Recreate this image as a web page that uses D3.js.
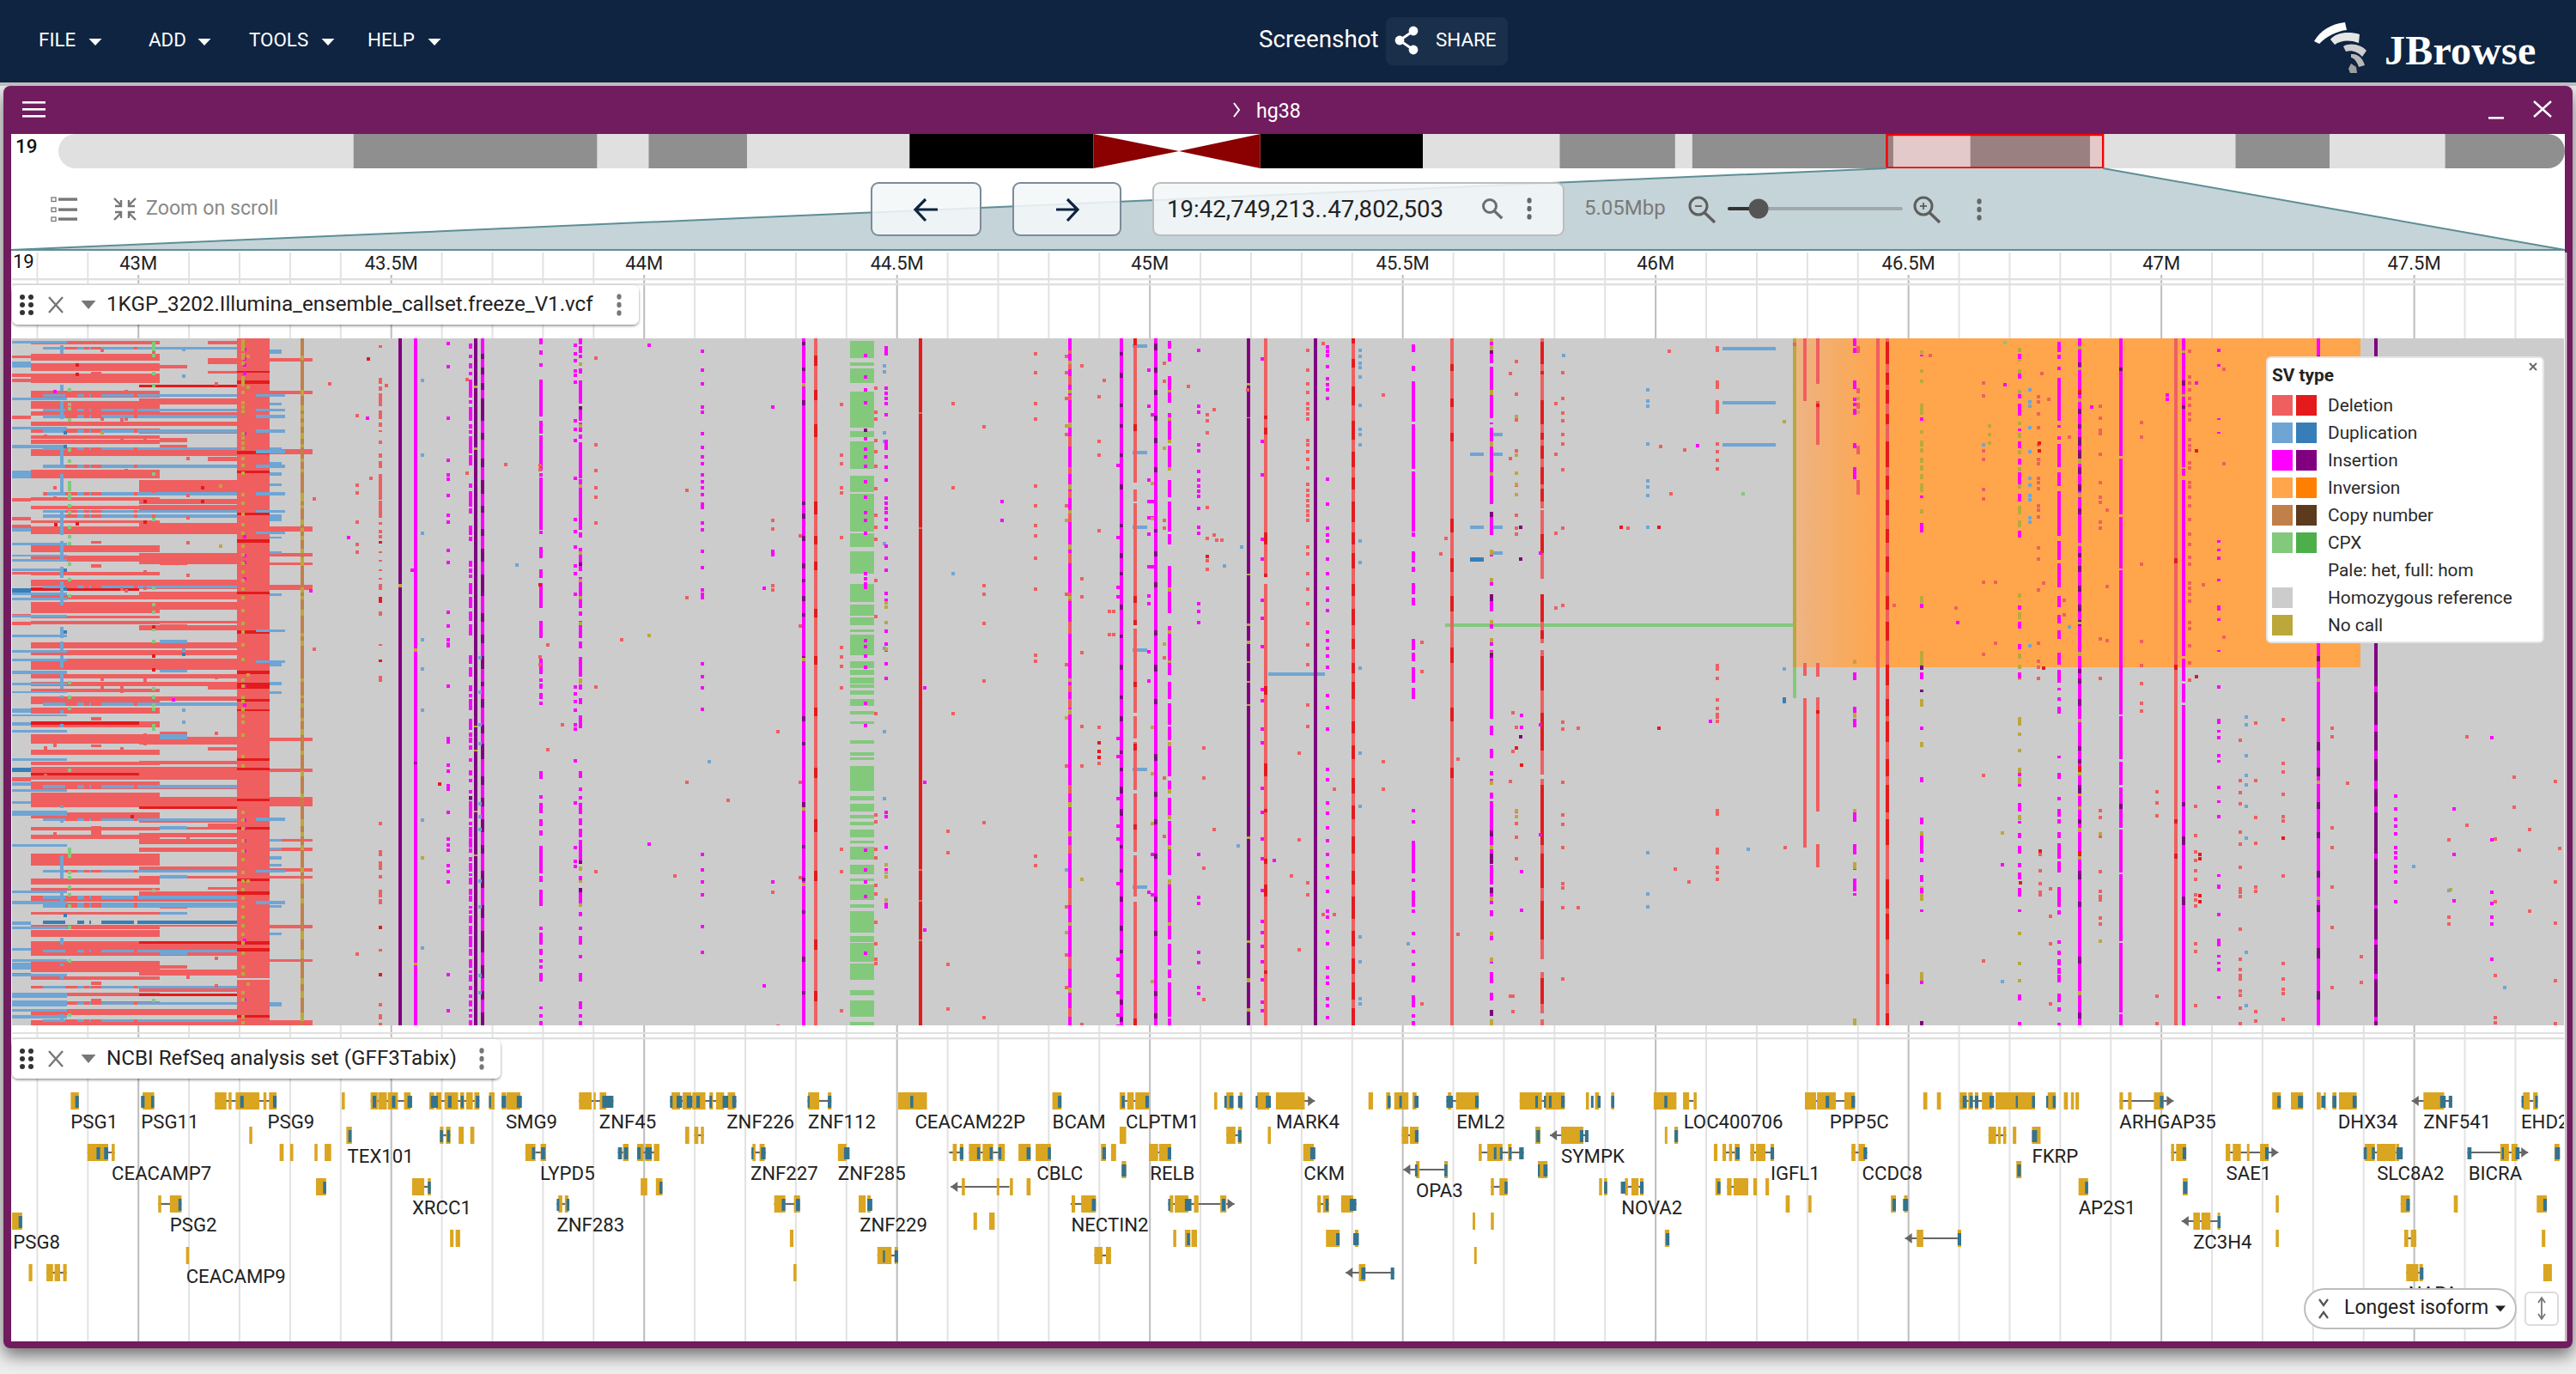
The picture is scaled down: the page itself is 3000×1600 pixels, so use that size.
<!DOCTYPE html>
<html>
<head>
<meta charset="utf-8">
<script src="https://cdn.jsdelivr.net/npm/d3@7"></script>
<style>
  body { margin: 0; background: #eee; }
  svg { display: block; font-family: Roboto, sans-serif; }
</style>
</head>
<body>
<div id="app"></div>
<script>
// view region in kb
const viewStart = 42749.213, viewEnd = 47802.503
const chromLength = 58.6

// chr19 cytobands, Mb
const bandStarts = [0, 6.9, 12.6, 13.8, 16.1, 19.9, 24.2, 26.2, 28.1, 31.9, 35.1, 37.8, 38.2, 42.9, 44.7, 47.5, 50.9, 53.1, 55.8]
const bandEnds = [6.9, 12.6, 13.8, 16.1, 19.9, 24.2, 26.2, 28.1, 31.9, 35.1, 37.8, 38.2, 42.9, 44.7, 47.5, 50.9, 53.1, 55.8, 58.6]
const bandKinds = ['l', 'd', 'l', 'd', 'l', 'k', 'c', 'c', 'k', 'l', 'd', 'l', 'd', 'l', 'd', 'l', 'd', 'l', 'd']

const legendLabels = ['Deletion', 'Duplication', 'Insertion', 'Inversion', 'Copy number', 'CPX', 'Pale: het, full: hom', 'Homozygous reference', 'No call']
const legendPale = ['#EF5F60', '#6FA5D4', '#FF00FF', '#FFA64D', '#C17F4A', '#82C97C', null, '#CCCCCC', '#BBA83B']
const legendFull = ['#E41A1C', '#377EB8', '#800080', '#FF7F00', '#5C3A1E', '#4DAF4A', null, null, null]

// matrix rows are 800 bins of samples. all spans below are flat from,to,from,to lists
// breakpoints shared by the deletions and duplications at the left of the view (kb)
const kbA = 42749, kbB = 42788, kbC = 42812, kbD = 42860, kbE = 43002, kbF = 43043, kbG = 43097, kbH = 43138
const kbI = 43196, kbJ = 43233, kbK = 43260, kbL = 43291, kbN = 43284, kbM = 43345

const delBtoF = [3,7,18,26,29,38,41,52,61,69,73,82,85,90,97,102,105,110,113,117,118,123,129,137,153,163,185,189,195,199,212,215,219,228,241,249,253,260,272,276,281,289,299,304,307,320,323,326,329,333,354,361,363,369,373,386,391,396,400,405,408,412,417,426,430,437,446,453,461,472,479,485,493,497,499,514,516,525,529,546,552,559,569,573,578,583,600,614,629,636,640,643,649,656,668,671,683,688,689,697,702,719,725,738,743,747,754,757,762,766,772,776,781,788,794,800]
const delEtoI = [70,77,86,90,97,102,107,111,129,137,165,179,187,193,194,201,215,228,250,263,281,292,295,304,307,316,329,332,334,340,354,361,363,369,373,386,391,396,400,405,417,422,464,473,492,496,499,514,523,525,534,546,559,564,569,572,576,581,583,589,593,598,615,621,626,629,644,656,683,685,702,719,735,742,757,761,763,766,781,788,794,800]
const delHtoI = [3,7,23,30,38,41,138,143,405,409,476,480,565,569,639,642]
const delFtoG = [31,35,99,102,116,121,124,128,261,264,333,336,458,461,661,664,730,734]
const delAtoB = [20,23,41,45,47,51,90,94,186,190,208,212,217,221,272,275,321,324,330,334,511,516,739,743]
const delKtoM = [23,27,61,65,129,135,219,225,250,254,261,264,287,293,465,469,501,505,534,545,583,586,593,597,617,621,626,629,683,687,723,726,794,800]
const delShort = [39,42,236,239,263,267,441,445,473,476,568,578,749,753,769,776]
const homDelBtoE = [290,294,446,450,506,509]
const homDelEtoI = [54,57,545,548,702,705,763,766]
const blockGaps = [745,747]
const blockHomBands = [38,40,49,53,131,135,154,157,203,206,234,238,295,298,340,344,387,391,401,408,420,423,432,434,489,492,500,503,536,539,569,572,629,632,644,648,702,706,710,714,788,791]

const dupCtoI = [10,13,65,68,82,85,89,93,106,110,127,130,147,151,179,183,200,203,205,209,288,291,424,428,520,524,559,562,619,622,649,653,657,663,712,715,754,757,773,776,793,796]
const dupPieces = [42812,42856,42880,42893,42904,42907,42927,42992,42999,43196]
const homDupCtoI = [678,682]
const dupAtoD = [3,6,69,72,103,106,124,128,238,241,252,254,257,260,268,271,296,299,302,305,322,325,345,348,363,366,373,376,387,391,401,404,411,413,438,440,456,459,489,492,525,528,550,556,589,592,643,646,655,659,685,688,723,726,740,743,762,768,771,778,781,784,788,792]
const dupAtoB = [27,34,154,163,221,225,431,436,447,451,517,521,539,542,679,683,710,713,727,735]
const homDupAtoB = [291,296,500,505]
const dupJtoL = [65,68,82,85,89,93,106,110,130,134,147,151,179,183,200,203,225,228,339,342,375,378,558,562,619,622,655,659]
const dupKtoN = [13,18,75,78,127,130,144,148,156,160,169,172,205,213,231,233,248,251,297,300,375,382,400,404,411,414,583,586,593,596,603,607,612,615,660,663,692,695,773,778]
const dupFtoG = [351,355,386,389,461,467,520,524,568,572,625,629,668,671,714,718]
const dupColumn = [8,18,54,61,73,94,124,149,158,183,203,229,236,259,266,279,283,311,336,349,353,363,369,384,388,408,416,419,433,437,449,453,544,547,559,564,602,629,643,659,698,706,728,731,743,746,763,766,787,796]

const cpxRows = [3,23,28,32,35,52,62,104,108,115,120,152,160,179,181,225,227,243,248,274,286,307,310,323,325,334,339,342,345,369,376,384,386,392,395,402,403,407,410,415,420,428,434,438,446,449,468,472,482,486,488,491,498,527,533,538,542,551,555,559,563,567,572,581,585,588,592,607,613,624,629,632,636,654,659,663,667,692,696,703,704,726,728,747,759,765,771,790,796,800]

// [kb, type, spans] columns that run most of the way down, spans null means all rows
const stripes = [
  [43321, 'cn', null],
  [43321, 'nc', [20,25,60,67,78,84,88,93,98,103,110,117,123,127,140,144,152,156,180,190,194,198,211,217,221,225,230,235,245,250,255,265,290,296,300,304,316,323,343,347,352,358,396,400,416,419,425,430,442,446,455,462,480,485,504,510,530,535,560,568,575,580,590,596,616,622,630,635,652,658,690,700,712,722,745,752,760,768,785,795]],
  [43515, 'INS', null], [43515, 'nc', [286,290]],
  [43545, 'ins', null], [43545, 'INS', [493,496]], [43545, 'nc', [361,365,727,730]],
  [43654, 'ins', [6,12,19,23,29,35,39,43,48,69,72,76,80,96,100,105,107,111,114,134,136,148,169,174,178,196,198,204,218,229,231,236,259,266,268,273,275,279,285,298,301,314,318,329,333,346,369,379,383,394,404,411,414,418,420,433,443,456,459,464,465,471,474,479,489,493,503,509,513,517,526,530,533,538,539,559,563,567,569,581,582,593,594,599,604,609,611,621,623,626,628,636,641,648,649,656,661,664,666,670,672,681,684,694,696,709,711,719,723,733,736,739,741,749,754,759,764,768,771,778,781,784,787,791,794,800]],
  [43654, 'INS', [533,537]],
  [43664, 'INS', null], [43664, 'nc', [55,58,127,130,451,453,479,481,550,552,601,603]],
  [43678, 'INS', null],
  [43678, 'ins', [0,18,24,34,42,52,60,70,96,110,118,140,150,165,181,195,203,222,230,245,260,275,300,320,330,345,355,370,385,400,405,420,430,450,460,472,490,510,520,535,545,560,575,590,600,620,640,660,675,690,715,730,745,760,770,785]],
  [43793, 'ins', [0,7,14,19,29,33,48,91,96,111,113,154,157,161,162,223,224,228,243,256,269,279,285,314,329,349,373,391,396,400,402,408,413,420,423,427,504,513,532,536,541,553,560,568,573,579,591,623,626,633,642,661,685,689,692,706,711,718,723,727,730,734,739,749,778,781,787,791,795,800]],
  [43871, 'ins', [0,7,9,17,19,23,35,41,49,76,82,96,98,109,112,117,121,163,164,223,226,232,244,263,265,271,278,314,318,323,329,349,353,361,371,394,396,400,403,409,419,426,439,454,504,512,523,527,533,537,541,554,559,567,571,581,584,609,626,633,641,661,668,673,685,689,696,706,718,722,739,749,772,781,787,791,795,800]],
  [43871, 'INS', [79,83,261,265,608,612,640,645]], [43871, 'nc', [28,32,100,104,170,174,248,252,280,284,300,304,330,334,396,402,615,620,631,634,658,662]],
  [43476, 'del', [8,11,46,53,56,61,64,79,84,94,98,103,107,109,119,123,134,139,143,151,158,188,189,209,214,217,223,227,229,233,236,239,248,250,258,260,269,271,279,281,286,293,301,308,318,323,356,358,374,377,393,396,396,400,563,567,596,603,609,619,625,629,642,651,653,659,711,714,774,778,787,793,797,800]],
  [43476, 'DEL', [236,239,301,308,374,377,684,688,739,743]],
  [44313, 'ins', null],
  [44313, 'INS', [4,8,34,38,72,78,190,194,204,210,230,236,262,268,280,284,300,306,320,324,370,376,440,446,470,474,540,546,590,594,628,632,666,670,720,726,760,764]],
  [44313, 'nc', [52,56,372,376,546,550,634,638]],
  [44337, 'del', null],
  [44337, 'DEL', [20,32,60,72,100,115,190,205,230,240,260,270,315,325,370,380,430,440,500,512,560,575,620,632,700,712,760,772]],
  [44544, 'DEL', null], [44544, 'del', [86,88,220,222,618,620,654,656,700,702]],
  [44839, 'ins', null],
  [44839, 'del', [14,18,30,36,44,54,66,72,114,126,150,158,178,186,204,214,250,262,296,306,330,344,404,412,420,430,520,530,590,600,640,660,720,734,780,790]],
  [44839, 'nc', [26,30,60,64,98,104,170,176,200,204,240,246,300,304,396,400,432,438,540,546,574,580,680,684,756,762]],
  [44941, 'ins', null],
  [44941, 'INS', [16,20,40,46,76,80,100,104,134,138,170,176,216,220,250,256,272,276,310,316,345,349,380,386,416,420,440,446,480,484,500,504,522,530,548,556,590,594,618,622,650,656,684,690,712,716,770,776,790,796]],
  [44968, 'del', [3,168,176,190,192,334,338,436,440,466,470,526,530,598,602,650,656,796]],
  [44968, 'DEL', [0,8,100,108,300,308,328,334,400,406,472,480,566,572,792,800]],
  [45009, 'ins', null],
  [45009, 'INS', [6,14,34,40,60,66,90,96,116,122,150,156,222,226,248,254,284,290,340,346,380,388,420,426,484,492,528,534,560,566,600,606,650,656,690,696,760,766,786,792]],
  [45036, 'ins', [3,12,17,27,44,60,63,75,87,118,125,150,165,185,190,225,228,240,265,290,295,320,335,375,378,392,400,420,425,450,452,468,470,510,515,530,535,555,562,590,595,625,630,680,684,700,705,730,735,745,750,790,792,800]],
  [45036, 'nc', [60,63,92,96,118,122,150,154,290,295,340,344,375,378,470,475,525,530,555,560,590,595,630,636,680,684]],
  [45193, 'INS', null], [45193, 'nc', [52,55,92,93,274,276,332,335,352,356,376,378,399,401,426,428,580,583,701,704,745,750,780,784]],
  [45227, 'del', [0,276,286,800]],
  [45227, 'DEL', [90,94,104,112,226,240,274,278,405,415,495,510,548,552,606,612,636,650,736,740]],
  [45325, 'INS', null],
  [45400, 'del', null],
  [45400, 'DEL', [0,6,24,34,56,78,96,118,132,150,162,176,190,214,226,240,250,268,286,300,315,334,350,362,378,390,400,420,446,460,474,490,512,530,544,560,580,600,620,636,650,676,690,708,722,740,750,770,780,800]],
  [45519, 'ins', [7,16,32,38,50,97,100,152,155,225,226,231,248,261,266,272,285,298,302,311,350,363,366,376,383,401,407,420,548,552,561,565,585,623,629,633,643,662,665,669,691,695,712,716,727,731,742,750,765,779,787,791,795,800]],
  [45595, 'del', null], [45595, 'DEL', [30,38,70,80,110,120,210,226,256,272,300,318,360,378,430,446,500,512]],
  [45673, 'ins', [0,29,33,93,98,100,104,156,159,193,204,229,246,254,279,288,298,318,328,338,349,358,363,443,451,462,478,489,504,509,513,520,529,536,539,603,613,636,639,659,666,673,691,701,721,728,738,751,762,771,783,789,793,800]],
  [45673, 'nc', [0,4,8,14,60,66,120,126,156,160,246,252,279,284,298,303,328,333,349,354,365,372,515,520,590,595,650,655,691,696,721,726,793,800]],
  [45673, 'INS', [14,18,202,208,298,306,366,372,573,580,600,612,640,646,782,789]],
  [45773, 'del', [0,198,200,280,298,355,363,508,513,723,738,786,793,800]],
  [45773, 'DEL', [4,30,38,42,72,100,110,118,125,140,150,170,175,190,228,250,298,330,340,350,370,410,436,480,520,590,600,640,655,700,745,775]],
  [46293, 'del', [0,73,378,393,419,593]],
  [46318, 'del', [0,53,73,124,378,394,418,551,589,616]],
  [46318, 'DEL', [76,80,433,437]],
  [46272, 'nc', [0,383]], [46272, 'cpx', [383,419]],
  [46391, 'ins', [0,9,11,17,49,59,69,73,75,79,82,89,122,128,150,164,389,398,429,438,443,453,548,563,589,601,611,619,629,644,646,649]],
  [46391, 'nc', [374,379,436,442,548,552,610,618,792,800]],
  [46398, 'del', [9,17,58,64,75,82,125,135,165,182]], [46398, 'nc', [68,72,84,88]],
  [46437, 'del', null],
  [46456, 'del', null],
  [46456, 'DEL', [4,30,40,54,60,76,88,100,120,150,160,176,188,206,222,238,254,272,300,316,330,352,380,404,420,440,446,470,490,510,520,552,560,590,630,664,670,700,740,752,786,800]],
  [46524, 'nc', [14,18,36,40,48,52,76,89,107,111,119,126,128,133,139,145,148,154,158,164,169,179,199,204,300,308,364,381,420,429,470,476,574,590,638,655,738,748,795,800]],
  [46524, 'ins', [19,21,92,96,183,186,215,226,309,314,389,397,452,456,511,517,558,566,579,600,605,610,625,633,640,646,665,668,748,752]],
  [46524, 'INS', [381,386,409,412,795,800]],
  [46717, 'nc', [11,16,23,27,36,41,60,66,97,101,110,116,130,135,150,155,168,175,195,205,212,220,297,302,319,327,367,373,380,385,390,398,441,451,459,463,478,482,500,506,511,521,541,548,555,561,691,695,726,730,746,750]],
  [46717, 'ins', [18,24,41,47,65,70,76,90,105,108,120,128,140,147,156,170,181,190,224,232,311,316,330,338,356,362,389,396,506,510,519,522,541,551,562,565,576,582,591,600,611,616,622,630,640,650,665,668,764,771,796,800]],
  [46795, 'ins', [4,16,19,24,33,37,46,96,101,104,114,118,123,150,156,172,178,230,236,258,262,290,300,313,322,332,340,350,366,380,386,401,407,410,418,422,429,437,486,489,506,513,534,538,548,557,560,565,575,582,588,606,609,622,639,662,666,671,701,705,713,718,723,730,733,740,741,750,763,773,779,784,797,800]],
  [46836, 'ins', null],
  [46836, 'INS', [28,33,60,65,82,88,100,105,115,125,130,140,150,158,170,178,198,205,250,255,265,272,288,295,310,318,328,335,385,390,396,402,420,428,475,480,490,495,520,530,560,565,620,630,656,662,720,728,785,792]],
  [46836, 'nc', [9,13,34,37,70,74,140,146,180,185,238,242,330,333,365,370,443,447,505,509,530,533,545,549,570,575,600,607,760,765]],
  [46836, 'DEL', [60,64,498,505,597,603]],
  [46918, 'ins', [0,137,140,205,208,268,270,438,440,490,493,520,523,570,572,622,624,702,704,785,787,800]],
  [46918, 'INS', [34,38,542,548]],
  [47026, 'del', null], [47026, 'DEL', [256,262,380,386,560,565,600,606]],
  [47042, 'ins', [0,49,52,160,165,370,373,399,402,424,427,800]],
  [47042, 'INS', [49,55,78,82,540,545,580,590,650,660]], [47042, 'nc', [14,17,65,68,150,152]],
  [47111, 'ins', [12,16,30,33,93,95,109,111,235,238,245,248,254,258,280,283,311,317,326,329,363,365,404,408,443,449,456,459,463,467,484,488,491,494,521,525,538,541,555,559,624,627,636,641,669,673,699,708,718,721,726,729,733,737,766,769]],
  [47308, 'ins', null],
  [47308, 'INS', [20,26,64,72,100,108,130,142,170,178,220,228,250,258,282,290,330,338,370,376,470,480,500,510,540,548,575,582,620,628,660,668,710,722,760,770]],
  [47308, 'nc', [30,34,150,154,345,350,396,400,515,519,650,654]],
  [47422, 'INS', null], [47422, 'ins', [345,350,405,412,450,458,480,490,515,525,545,552,600,606,660,664,700,706,740,746,790,795]]
]

// [kb, rows] single calls, by genotype
const delDots = [
  [42814,[112,179,475,507]],[42832,[172,184,472,575]],[42926,[12,92,395,405]],[42964,[93,114,290,300,404,409,476]],[42974,[60,92,152,292]],[43011,[116,186,270,289,396,460,470]],[43028,[10,14,156,176,205,392,400]],
  [43096,[138,181,207,236,274,379,580,742]],[43124,[187,257]],[43152,[51,393,400,458,720,752]],[43346,[185,360]],[43376,[51]],
  [43430,[88,169,178,212,238,247,715]],[43457,[161]],[43487,[53]],[43647,[46]],[43647,[155]],[43724,[145]],[43792,[146,151,369,378]],[43807,[355,477]],[43902,[21,122,172,183,404,619]],[43902,[152,213]],[43835,[448]],
  [44082,[175,300,515]],[44058,[624]],[44164,[536]],[43953,[349]],[44252,[78,210,220,286,291,643]],[44262,[456,799]],[44306,[228,333,515,626]],
  [44388,[75,134,144,172,178,230,358,369,380,405,593,619,781]],[44456,[56,84,92,117,130,147,173,204,218,232,280,322,435,553,561,593,603,635,645,678,703,721,726]],
  [44608,[74,172,435]],[44598,[572,597,727,779]],[44670,[101,286,296,330,397,562,789]],[44771,[16,38,74,92,170,193,216,228,254,290,367,374,601,612]],[44833,[19,38,68,110,193,296,378,496,660,716,754]],
  [44863,[30,278,299,364,450,496,797]],[44897,[66,118,134,222,451,493]],[44907,[47]],[44917,[316,343]],[44925,[316,343]],
  [45026,[27,48,210,219,370,510,578]],[45074,[54]],[45111,[87,94,108,195,231,257,267]],[45104,[475,510,615,768]],[45124,[81,227,570]],[45130,[233]],[45140,[233]],
  [45310,[12,35,51,61,74,80,86,92,117,122,130,139,149,168,175,181,187,193,199,204,210,241,249,272,290,307,330,355,378,425,450,632,646]],
  [45459,[64,491,523]],[45535,[352,386,773]],[45573,[249]],[45583,[231]],[45607,[488,692]],[45362,[523,669]],[45340,[4,669]],[45277,[624]],[45293,[481,582,710]],[45172,[589]],[45191,[58]],
  [45716,[434,479,764,782]],[45722,[25,63,93,129,169,204,219,226,451,549,563,579,604]],[45711,[39,138,514,764]],[45800,[74,133,225,312]],[45814,[38,68,85,94,110,121,151,219,309,445,453,515,553,564,591,633,638,661,744]],[45845,[452,661]],
  [46024,[13]],[46007,[124]],[46055,[128]],[46028,[179]],[45943,[219]],[46037,[616]],[46064,[631]],[46254,[591]],[46272,[5]],[46120,[9,12,49,52,55,72,76,80,84,121,130,140,150,379,383,394,419,429,436,439,444,548,552,593,597,614,620,628]],
  [46541,[18]],[46592,[312]],[46469,[309]],[46646,[50,65,129,139,174,185,282,366,507,723]],[46670,[282,353]],
  [46755,[66,72,86,102,122,139,144,161,166,173,193,198,206,242,255,291,353,374,381,394]],[46758,[599,618,633,643,646]],[46762,[39]],[46775,[69]],[46779,[639,671,703,773]],[46765,[283]],
  [46806,[303,320]],[46816,[113]],[46877,[77,91,105,109,133,166,183,189,212,219,394,348,548,556,578,619,642,648,652,673,680]],[46891,[198,287,350]],[46958,[96,113,261,351,379,400,423,432]],[46989,[526,539,554,764,796]],
  [47053,[13,43,50,58,68,76,86,93,116,123,128,143,149,166,171,183,193,209,226,238,253,261,283,289,296,304,329,336,356,376,396]],[47065,[543,577,596,606,618,628,646,652,659,703,712,775]],[47081,[285]],[47121,[34,144,346]],
  [47154,[466,513,527,540,573,587,614,639,643,648,686,721,733,740,744,758,763,778,796]],[47184,[446,513,556,586,637,642,782,793]],[47239,[442,493,503,529,555,560,580,624,726,744,756,761,791]],[47335,[452,462,568,591,637,684,754]],[47366,[516]],[47392,[718,748]],
  [47566,[582,672,680]],[47602,[462,565]],[47658,[581,654,740,789,795]],[47695,[509,544]],[47706,[594]],[47726,[570,665]],[47777,[514,631,679,746,796]],[47785,[592]]
]
const homDelDots = [
  [42877,[29,40,214]],[43011,[188,212]],[43028,[334,368,384]],[42834,[215]],[43124,[172,188]],[42985,[555]],[43792,[285]],[43593,[517]],[43452,[22]],[44897,[469,479,486]],[45111,[252]],[45930,[218]],[46004,[218,452]],[45733,[495]],[45722,[475]],[46758,[595]],[46765,[382]],[47074,[599,604,647,654]],[47067,[129,392]],[47239,[580]],[46719,[632]],[46756,[120,129]]
]
const insDots = [
  [43610,[4,31,91,140,157,162,181,204,212,245,259,317,333,349,354,356,403,464,468,495,502,519,523,550,581,588,594,612,619,631,739,781]],
  [43862,[6,16,24,36,41,49,94,104,117,161,209,223,241,263,272,296,404,412,421,431,448,453,490,539,591,607,613]],
  [43207,[11,22,29,39,109,229,251,259,278,403,425,559,569,583,595,699,768]],[42832,[60]],[43067,[419]],[43338,[292]],[43413,[230]],[43450,[91]],[43539,[268]],
  [44007,[6,587]],[44113,[13,35,51,78,84,109,125,136,144,157,165,172,180,191,195,213,221,246,265,291,296,300,377,392,405,430,599,617,631,646,683,713]],
  [44252,[78,246,250,631]],[44235,[289,752]],
  [44435,[18,43,58,73,115,127,136,147,165,183,201,210,225,272,278,284,288,350,357,368,381,423,449,594,617,631,648,714]],
  [44476,[9,13,16,56,62,68,74,87,118,122,126,136,148,163,184,190,196,201,209,218,240,254,268,295,303,339,354,361,377,394,550,555,591,617,625,652,657,660]],
  [44553,[405,515,687]],[44705,[188,210]],[44934,[146,230,288,299,464,485,534,566,581,633,721,740,760,786,799]],
  [44995,[35,77,163,188,207,226,264,298,307,363,397,643]],[45002,[87,188,207,264,599,646]],
  [45094,[12,77,84,122,129,153,163,170,176,182,196,218,225,307,316,329,599,649,656,713,725,754,761]],
  [45220,[22,118,157,232,255,303,324,357,407,420,453,469,522,550,581,604,641,677,690,706,724,745,771,781]],
  [45243,[606]],
  [45349,[8,13,18,31,45,52,58,68,162,191,219,227,234,255,272,289,303,315,340,350,359,368,381,414,428,453,500,512,539,551,568,583,599,612,626,642,665,672,689,703,731,742,749,767,775,789]],
  [45733,[437,451,619,664]],[45770,[248,448,576]],[46106,[444]],[46081,[123]],
  [46595,[329]],[46860,[78]],[47009,[64,69]],[47067,[50]],
  [47460,[531,546,558,566,575,591,597,603,613,619,631,654]],[47577,[546,599,653]],[47651,[463,582,643,656,672,680,721]],[46689,[52]],[46683,[611]]
]
const homInsDots = [[44435,[105]],[45730,[218,255,462]]]
const dupDots = [
  [43087,[11,42,361,431,445]],[43559,[47,134,225,349,383,431,559,708]],[43746,[262]],[43672,[370,410,448,470,540,555,570,630,660,740,760]],
  [44126,[491]],[44608,[272]],[44472,[30,37,108,118,237,359,456,534]],[44832,[617]],[45145,[263]],[45179,[241]],
  [45413,[12,19,27,32,43,76,104,110,122,234,259,382,481,543,695,724,767,773]],[45508,[703]],[45172,[589]],
  [45816,[18]],[45982,[58,71,77,121,164,171,181,218,597,645,660]],[46181,[593]],
  [46738,[58,72,77,102,130,161,169,181,186,207,212,356]],[46683,[747]],[46816,[334]],[47166,[439,448,484,507,518,543,580,713,775]],[46645,[122]],[47497,[613]],[47566,[641]],[47677,[754]],[46252,[383]]
]
const homDupDots = [[42853,[108,124,268,290,340,670]],[43087,[366]],[46252,[418,421]]]
const noCallDots = [
  [43205,[1,5,8,11,17,21,27,44,48,52,61,73,78,83,109,114,120,126,138,146,155,180,190,203,215,225,240,250,260,270,280,290,300,315,330,340,355,372,396,403,416,421,430,438,445,460,485,496,550,559,569,583,595,605,620,630,640,650,660,672,682,692,702,714,730,738,760,768,788,795]],
  [43215,[19,55,390,630,750]],[42926,[108]],[43160,[170,240]],[43559,[603]],[44007,[344]],[44476,[306,311,329,360,611,620,625,652]],[44863,[628]],[45002,[167,208,451,505,563,747]],[45026,[126,354]],[44833,[100,210,440,690]],
  [46252,[95]],[45722,[89,134,155,168,180,548,555]],[46683,[574]],[47250,[62,114]],[46658,[100,110,120]],[46877,[575,700]],[47570,[640]],[46520,[800]]
]
const cpxDots = [
  [42861,[58,75,80,93,128,141,166,170,174,180,184,193,201,218,229,237,261,279,298,399,416,429,501,593,597,601,620,626,637,646,659,684,723,786]],
  [43028,[4,8,11,18,39,53,156,209,289,308,317,337,351,406,416,425,430,449,453,641,769]],[46170,[179]],[46689,[3]]
]

const dupRightLong = [[44967,44995,[7,131,218,361,500,637]],[45235,45347,[389]],[45634,45661,[133,218]],[45675,45699,[110,133,218,248]],[46133,46238,[10,73,122]]]
const homDupLong = [[45634,45661,[255]]]
const cpxLine = [45585, 46272, 332]
const inversionSpan = [46272, 47395, 0, 383]

// gene models: kb, flat from,to lists per layout row
const exonRows = {
  0: [42867,42883,43009,43032,43152,43175,43179,43185,43193,43240,43248,43254,43259,43274,43403,43409,43460,43474,43475,43492,43494,43514,43526,43539,43576,43586,43589,43600,43606,43633,43637,43645,43649,43662,43665,43675,43694,43705,43719,43728,43729,43756,43872,43897,43901,43905,43913,43926,44055,44072,44077,44094,44096,44122,44130,44137,44143,44159,44166,44181,44325,44347,44364,44371,44503,44560,44808,44826,44941,44952,44956,44969,44972,44999,45128,45134,45152,45166,45178,45184,45213,45237,45250,45307,45433,45442,45468,45476,45484,45512,45520,45528,45590,45597,45606,45651,45732,45776,45783,45821,45863,45869,45881,45889,45913,45919,45997,46042,46055,46067,46076,46082,46296,46318,46320,46357,46374,46395,46530,46538,46557,46565,46602,46616,46619,46628,46632,46639,46646,46667,46673,46751,46776,46792,46808,46816,46822,46828,46831,46838,46918,46925,46935,46942,46986,47005,47220,47237,47257,47281,47308,47316,47322,47326,47339,47347,47352,47387,47519,47560,47716,47729,47736,47745],
  2: [43220,43226,43412,43423,43597,43604,43609,43618,43634,43644,43657,43665,44082,44090,44100,44108,44113,44119,44941,44954,45152,45170,45175,45182,45234,45240,45499,45512,45515,45532,45763,45773,45814,45858,46019,46024,46038,46045,46659,46674,46678,46683,46688,46694,46707,46714,46745,46762],
  3: [42900,42941,42948,42954,43280,43288,43301,43307,43349,43355,43369,43382,43766,43786,43796,43807,43959,43970,43987,44000,44003,44016,44020,44031,44215,44221,44229,44239,44384,44401,44611,44619,44625,44632,44643,44666,44670,44691,44701,44714,44741,44765,44775,44805,44904,44914,44924,44934,44999,45017,45019,45043,45304,45325,45651,45657,45668,45698,45709,45716,46116,46123,46133,46140,46146,46152,46157,46167,46188,46196,46199,46218,46228,46235,46388,46396,46402,46415,47020,47026,47030,47050,47128,47137,47142,47158,47170,47175,47196,47213,47403,47423,47427,47464,47465,47471,47671,47688,47693,47705,47778,47788],
  4: [44945,44954,45527,45534,45583,45590,45768,45787,46714,46724],
  5: [43352,43372,43542,43566,43573,43579,43994,44007,44024,44037,44629,44635,44698,44703,44724,44730,44757,44765,45675,45681,45692,45708,45889,45895,45899,45905,45940,45946,45953,45967,45970,45977,46119,46129,46142,46151,46155,46184,46194,46201,46218,46225,46837,46856,47043,47053],
  6: [43040,43046,43063,43086,43831,43839,43844,43851,44258,44280,44297,44309,44425,44439,44442,44449,44846,44853,44865,44894,45040,45047,45050,45077,45088,45097,45140,45152,45332,45339,45343,45355,45379,45403,46258,46266,46303,46309,46466,46476,46492,46499,47227,47233,47474,47492,47579,47587,47743,47763],
  7: [42751,42771,44652,44659,44683,44694,45639,45644,45675,45681,47064,47077,47080,47098,47112,47117],
  8: [43617,43624,43628,43637,44289,44296,45047,45053,45070,45081,45083,45094,45349,45376,45406,45413,46019,46028,46517,46530,46598,46605,47227,47233,47481,47489,47494,47505,47753,47760],
  9: [43095,43101,44462,44490,44496,44503,44891,44907,44914,44924,45642,45647],
  10: [42784,42791,42819,42832,42835,42846,42852,42859,44296,44302,45414,45427,47485,47509,47511,47518,47756,47773],
  12: [43169,43193]
}
const cdsRows = {
  0: [42876,42883,43006,43013,43026,43032,43202,43209,43267,43274,43464,43471,43502,43509,43533,43542,43579,43593,43613,43620,43638,43644,43668,43675,43694,43698,43719,43728,43749,43759,43918,43940,44052,44057,44065,44076,44085,44096,44104,44111,44130,44135,44156,44167,44175,44183,44324,44328,44364,44371,44527,44533,44819,44826,44945,44951,44992,44999,45148,45153,45158,45166,45175,45184,45210,45214,45230,45240,45471,45477,45494,45499,45524,45532,45587,45600,45644,45651,45763,45768,45780,45784,45790,45795,45814,45821,45873,45878,45886,45892,45913,45919,46018,46024,46337,46344,46388,46395,46608,46616,46622,46628,46632,46639,46661,46670,46713,46717,46745,46751,46773,46777,46786,46792,46998,47005,47230,47237,47271,47281,47317,47325,47339,47347,47379,47387,47552,47563,47569,47576,47713,47717,47740,47745],
  2: [43416,43422,43597,43603,43611,43617,45175,45182,45525,45532,45765,45772,45851,45858,45861,45868,46038,46045,46745,46755],
  3: [42918,42925,42933,42941,43779,43785,43797,43805,43949,43957,43961,43969,43987,43994,44003,44016,44213,44217,44232,44241,44396,44407,44625,44632,44659,44665,44684,44690,44701,44707,44757,44765,44799,44805,44907,44914,45036,45043,45318,45328,45681,45686,45693,45698,45711,45716,45731,45740,46159,46167,46228,46235,46412,46419,47043,47050,47206,47213,47401,47407,47417,47423,47466,47478,47606,47614,47674,47678,47701,47709,47779,47789],
  4: [44945,44954,45525,45530,45583,45589,45768,45772,45779,45787,46716,46723],
  5: [43366,43372,43573,43579,44031,44037,45702,45708,45899,45905,45932,45941,45970,45977,46123,46129,46850,46856,47044,47052],
  6: [43080,43086,43828,43833,43847,43853,44273,44280,44301,44309,44442,44452,44886,44894,45037,45041,45070,45083,45143,45150,45348,45354,45396,45409,46469,46476,46490,46500,47485,47492,47756,47763],
  7: [42764,42771,47112,47118],
  8: [45074,45080,45369,45376,45403,45414,46021,46028,46598,46605],
  9: [44473,44477,44496,44503],
  10: [45419,45427,45477,45484,47512,47519],
  12: [43166,43170,43185,43193]
}
// [row, from, to, strand]
const geneLines = [
  [0,43152,43274,0],[0,43460,43542,0],[0,43576,43675,0],[0,43872,43940,0],[0,44052,44183,0],[0,44324,44371,0],[0,44941,44999,0],[0,45250,45327,1],[0,45587,45651,0],[0,45732,45821,0],[0,46067,46076,0],[0,46296,46395,0],[0,46602,46670,0],[0,46673,46751,0],[0,46918,47025,1],[0,47496,47576,-1],[0,47713,47745,0],
  [2,43597,43618,0],[2,44100,44119,0],[2,45152,45182,0],[2,45499,45532,0],[2,45792,45868,-1],[2,46659,46694,0],
  [3,42900,42954,0],[3,43766,43807,0],[3,43949,43969,0],[3,43987,44031,0],[3,44213,44241,0],[3,44604,44632,0],[3,44643,44714,0],[3,44999,45043,0],[3,45651,45740,0],[3,46133,46167,0],[3,46188,46235,0],[3,46388,46419,0],[3,47020,47050,0],[3,47128,47232,1],[3,47401,47478,0],[3,47606,47726,1],
  [4,45502,45589,-1],[4,45768,45787,0],
  [5,43352,43372,0],[5,43542,43579,0],[5,44607,44723,-1],[5,45675,45708,0],[5,45940,45977,0],[5,46142,46184,0],
  [6,43040,43086,0],[6,43828,43853,0],[6,44258,44309,0],[6,44844,44894,0],[6,45037,45168,1],[6,45332,45355,0],[6,45379,45409,0],[6,47474,47492,0],
  [7,47041,47118,-1],[8,46494,46605,-1],[8,47481,47505,0],[9,44462,44503,0],[9,44891,44924,0],[10,42819,42859,0],[10,45388,45484,-1],[10,47485,47518,0]
]
const geneNames = ['PSG1','PSG11','PSG9','SMG9','ZNF45','ZNF226','ZNF112','TEX101','CEACAMP7','LYPD5','ZNF227','ZNF285','XRCC1','PSG2','ZNF283','PSG8','CEACAMP9','CEACAM22P','BCAM','CLPTM1','MARK4','EML2','LOC400706','SYMPK','CBLC','RELB','CKM','OPA3','NOVA2','NECTIN2','ZNF229','PPP5C','ARHGAP35','DHX34','ZNF541','EHD2','FKRP','IGFL1','CCDC8','SAE1','SLC8A2','BICRA','AP2S1','ZC3H4','NAPA']
const geneNameKb = [42867,43006,43256,43727,43912,44164,44325,43414,42948,43795,44211,44384,43542,43063,43828,42753,43095,44536,44808,44953,45250,45607,46056,45814,44777,45001,45305,45527,45933,44845,44427,46345,46918,47350,47519,47712,46745,46228,46409,47129,47427,47608,46837,47064,47489]
const geneNameRow = [0,0,0,0,0,0,0,2,3,3,3,3,5,6,6,7,9,0,0,0,0,0,0,2,3,3,3,4,5,6,6,0,0,0,0,0,2,3,3,3,3,3,5,7,10]

// scales
const xScale = d3.scaleLinear([viewStart, viewEnd], [13, 2989.3])
const yScale = d3.scaleLinear([0, 800], [394, 1194])
const ideoScale = d3.scaleLinear([0, chromLength], [68, 2987])
const geneY = d3.scaleLinear([0, 1], [1272, 1292])

const genoColor = d3.scaleOrdinal(
  ['del', 'DEL', 'dup', 'DUP', 'ins', 'INS', 'inv', 'INV', 'cn', 'CN', 'cpx', 'CPX', 'ref', 'nc'],
  ['#EF5F60', '#E41A1C', '#6FA5D4', '#377EB8', '#FF00FF', '#800080', '#FFA64D', '#FF7F00', '#C17F4A', '#5C3A1E', '#82C97C', '#4DAF4A', '#CCCCCC', '#BBA83B'])
const navy = '#0F2440', plum = '#701F5F', exonColor = '#DAA520', cdsColor = '#33738F', intronColor = '#666'
const stripePx = 4, dotPx = 4

const pairs = a => d3.range(0, a.length, 2).map(i => [a[i], a[i + 1]])

const svg = d3.select('#app').append('svg').attr('width', 3000).attr('height', 1600)
const defs = svg.append('defs')

const shadow = defs.append('filter').attr('id', 'frameShadow').attr('x', '-5%').attr('y', '-5%').attr('width', '110%').attr('height', '110%')
shadow.append('feDropShadow').attr('dx', 0).attr('dy', 8).attr('stdDeviation', 10).attr('flood-color', '#000').attr('flood-opacity', 0.55)
const smallShadow = defs.append('filter').attr('id', 'boxShadow').attr('x', '-5%').attr('y', '-20%').attr('width', '110%').attr('height', '140%')
smallShadow.append('feDropShadow').attr('dx', 0).attr('dy', 1.5).attr('stdDeviation', 1.5).attr('flood-color', '#000').attr('flood-opacity', 0.45)

defs.append('clipPath').attr('id', 'matrixClip').append('rect').attr('x', 14).attr('y', 394).attr('width', 2972).attr('height', 800)
defs.append('clipPath').attr('id', 'geneClip').append('rect').attr('x', 14).attr('y', 1260).attr('width', 2972).attr('height', 240)
defs.append('clipPath').attr('id', 'ideoClip').append('rect').attr('x', ideoScale(0)).attr('y', 156).attr('width', ideoScale(chromLength) - ideoScale(0)).attr('height', 40).attr('rx', 20)

const invGrad = defs.append('linearGradient').attr('id', 'invGrad').attr('gradientUnits', 'userSpaceOnUse')
  .attr('x1', xScale(inversionSpan[0])).attr('x2', xScale(inversionSpan[0] + 170)).attr('y1', 0).attr('y2', 0)
invGrad.append('stop').attr('offset', 0).attr('stop-color', '#EDB587')
invGrad.append('stop').attr('offset', 0.55).attr('stop-color', '#F6AB63')
invGrad.append('stop').attr('offset', 1).attr('stop-color', genoColor('inv'))

// page frame
svg.append('rect').attr('width', 3000).attr('height', 1600).attr('fill', '#eeeeee')
svg.append('rect').attr('x', 4).attr('y', 100).attr('width', 2992).attr('height', 1470).attr('rx', 8).attr('fill', plum).attr('filter', 'url(#frameShadow)')
svg.append('rect').attr('width', 3000).attr('height', 96).attr('fill', navy)
svg.append('rect').attr('y', 96).attr('width', 3000).attr('height', 4).attr('fill', '#BDBDBD')
svg.append('rect').attr('x', 13).attr('y', 156).attr('width', 2974).attr('height', 1406).attr('fill', '#fff')

function txt(sel, x, y, s, size, fill, extra) {
  const t = sel.append('text').attr('x', x).attr('y', y).attr('font-size', size).attr('fill', fill).text(s)
  if (extra) Object.entries(extra).forEach(([k, v]) => t.attr(k, v))
  return t
}
function kebab(sel, x, y, fill, gap = 9.5) {
  sel.selectAll(null).data([-1, 0, 1]).join('ellipse').attr('cx', x).attr('cy', d => y + d * gap).attr('rx', 2.6).attr('ry', 3.2).attr('fill', fill)
}
function tri(sel, x, y, w, h, fill) {
  sel.append('path').attr('d', `M${x - w / 2},${y - h / 2}L${x + w / 2},${y - h / 2}L${x},${y + h / 2}Z`).attr('fill', fill)
}
function magnifier(sel, cx, cy, r, color, sign) {
  sel.append('circle').attr('cx', cx).attr('cy', cy).attr('r', r).attr('fill', 'none').attr('stroke', color).attr('stroke-width', 3)
  sel.append('line').attr('x1', cx + r * 0.7).attr('y1', cy + r * 0.75).attr('x2', cx + r * 1.9).attr('y2', cy + r * 1.9).attr('stroke', color).attr('stroke-width', 3.4)
  if (sign) {
    sel.append('line').attr('x1', cx - 4).attr('x2', cx + 4).attr('y1', cy).attr('y2', cy).attr('stroke', color).attr('stroke-width', 1.8)
    if (sign === '+') sel.append('line').attr('x1', cx).attr('x2', cx).attr('y1', cy - 4).attr('y2', cy + 4).attr('stroke', color).attr('stroke-width', 1.8)
  }
}

// header
const header = svg.append('g')
const menuX = [45, 173, 290, 428], menuArrow = [111, 238, 382, 506], menuLabels = ['FILE', 'ADD', 'TOOLS', 'HELP']
menuLabels.forEach((m, i) => {
  txt(header, menuX[i], 54, m, 22.4, '#fff', { 'font-weight': 400 })
  tri(header, menuArrow[i], 49, 15, 8, '#fff')
})
txt(header, 1466, 55, 'Screenshot', 27.8, '#fff')
header.append('rect').attr('x', 1614).attr('y', 20).attr('width', 142).attr('height', 56).attr('rx', 8).attr('fill', '#1A2F4A')
header.append('path').attr('d', 'M1646,36L1630,47L1646,58').attr('fill', 'none').attr('stroke', '#fff').attr('stroke-width', 3)
header.selectAll(null).data([[1646, 36], [1630, 47], [1646, 58]]).join('circle').attr('cx', d => d[0]).attr('cy', d => d[1]).attr('r', 5.4).attr('fill', '#fff')
txt(header, 1672, 54, 'SHARE', 22.4, '#fff')
// logo swooshes
const logoParts = [
  ['M2695,48C2702,36 2714,28 2731,26L2733,35C2722,36 2710,42 2701,51Z', '#fff'],
  ['M2714,46C2720,38 2735,36 2748,40L2747,50C2736,46 2726,47 2719,52Z', '#E6E6E6'],
  ['M2729,54C2737,49 2750,52 2756,59L2751,66C2746,60 2738,58 2732,60Z', '#CFCFCF'],
  ['M2738,63C2746,62 2752,68 2754,76L2747,78C2745,72 2742,68 2738,67Z', '#B8B8B8'],
  ['M2738,74L2744,78L2745,85L2737,85L2735,80Z', '#9E9E9E']
]
header.selectAll(null).data(logoParts).join('path').attr('d', d => d[0]).attr('fill', d => d[1])
txt(header, 2777, 75, 'JBrowse', 48, '#fff', { 'font-family': 'Liberation Serif', 'font-weight': 700, 'letter-spacing': 0.2 })

// view title bar
const titleBar = svg.append('g')
titleBar.selectAll(null).data([118, 126, 134]).join('rect').attr('x', 26).attr('y', d => d).attr('width', 27).attr('height', 2.6).attr('fill', '#fff')
titleBar.append('path').attr('d', 'M1437,120L1443,128L1437,136').attr('fill', 'none').attr('stroke', '#fff').attr('stroke-width', 2)
txt(titleBar, 1463, 137, 'hg38', 23.2, '#fff')
titleBar.append('rect').attr('x', 2898).attr('y', 136).attr('width', 18).attr('height', 2.6).attr('fill', '#fff')
titleBar.append('path').attr('d', 'M2951,118L2971,136M2971,118L2951,136').attr('fill', 'none').attr('stroke', '#fff').attr('stroke-width', 2.4)

// ideogram
const ideo = svg.append('g')
txt(ideo, 18, 178, '19', 22.4, '#111', { 'font-weight': 500 })
const bandFill = { l: '#E0E0E0', d: '#8F8F8F', k: '#000' }
ideo.append('g').attr('clip-path', 'url(#ideoClip)').selectAll('rect')
  .data(bandStarts.map((s, i) => ({ s, e: bandEnds[i], k: bandKinds[i] })).filter(b => b.k !== 'c'))
  .join('rect').attr('x', d => ideoScale(d.s)).attr('y', 156).attr('width', d => ideoScale(d.e) - ideoScale(d.s)).attr('height', 40).attr('fill', d => bandFill[d.k])
const cenA = ideoScale(bandStarts[6]), cenM = ideoScale(bandEnds[6]), cenB = ideoScale(bandEnds[7])
ideo.append('path').attr('d', `M${cenA},156L${cenM},176L${cenA},196ZM${cenB},156L${cenM},176L${cenB},196Z`).attr('fill', '#8B0000')

// overview trapezoid
const ovA = ideoScale(viewStart / 1000), ovB = ideoScale(viewEnd / 1000)
svg.append('path').attr('d', `M13,291L${ovA},196L${ovB},196L2987,291Z`).attr('fill', '#C5D4D8')
svg.append('path').attr('d', `M13,291L${ovA},196M${ovB},196L2987,291M13,291L2987,291`).attr('fill', 'none').attr('stroke', '#5E8E96').attr('stroke-width', 2)
ideo.append('rect').attr('x', ovA).attr('y', 157).attr('width', ovB - ovA).attr('height', 38.5).attr('fill', 'rgba(255,0,0,0.1)').attr('stroke', '#F40000').attr('stroke-width', 2.4)

// toolbar
const bar = svg.append('g')
const btn = (x, w, stroke) => bar.append('rect').attr('x', x).attr('y', 213).attr('width', w).attr('height', 61).attr('rx', 8).attr('fill', '#F4F7F8').attr('fill-opacity', 0.88).attr('stroke', stroke).attr('stroke-width', 2)
btn(1015, 127, '#7C8B9A'); btn(1180, 125, '#7C8B9A'); btn(1343, 478, '#BDBDBD')
bar.append('path').attr('d', 'M1092,244L1066,244M1078,232L1066,244L1078,257').attr('fill', 'none').attr('stroke', navy).attr('stroke-width', 3.2)
bar.append('path').attr('d', 'M1230,244L1255,244M1243,232L1255,244L1243,257').attr('fill', 'none').attr('stroke', navy).attr('stroke-width', 3.2)
txt(bar, 1359, 253, '19:42,749,213..47,802,503', 27.6, '#222')
magnifier(bar, 1735, 240, 7.5, '#6D6D6D')
kebab(bar, 1781, 243, '#666')
txt(bar, 1845, 250, '5.05Mbp', 24, '#7A7A7A')
magnifier(bar, 1978, 240, 10, '#5E5E5E', '-')
bar.append('line').attr('x1', 2014).attr('x2', 2214).attr('y1', 243).attr('y2', 243).attr('stroke', '#9FA9AD').attr('stroke-width', 4).attr('stroke-linecap', 'round')
bar.append('line').attr('x1', 2014).attr('x2', 2048).attr('y1', 243).attr('y2', 243).attr('stroke', '#333').attr('stroke-width', 4).attr('stroke-linecap', 'round')
bar.append('circle').attr('cx', 2048).attr('cy', 243).attr('r', 11.5).attr('fill', '#555')
magnifier(bar, 2240, 240, 10, '#5E5E5E', '+')
kebab(bar, 2305, 244, '#666')
bar.selectAll(null).data([232, 244, 255]).join('g').each(function (d) {
  d3.select(this).append('rect').attr('x', 60).attr('y', d - 2).attr('width', 5).attr('height', 4.5).attr('fill', 'none').attr('stroke', '#777').attr('stroke-width', 1.3)
  d3.select(this).append('rect').attr('x', 68).attr('y', d - 1.6).attr('width', 22).attr('height', 3.4).attr('fill', '#777')
})
bar.append('path').attr('d', 'M133,231L141,239M141,233L141,240L134,240M158,231L150,239M150,233L150,240L157,240M133,256L141,248M141,254L141,247L134,247M158,256L150,248M150,254L150,247L157,247').attr('fill', 'none').attr('stroke', '#777').attr('stroke-width', 2.4)
txt(bar, 170, 250, 'Zoom on scroll', 23.2, '#8A8A8A')

// grid lines, scale bar
const minorTicks = d3.range(42800, 47900, 100).filter(d => d % 500 !== 0)
const majorTicks = d3.range(43000, 47600, 500)
const gridMinor = svg.append('g').attr('transform', 'translate(0,294)')
  .call(d3.axisBottom(xScale).tickValues(minorTicks).tickSize(1268).tickFormat(''))
gridMinor.select('.domain').remove()
gridMinor.selectAll('line').attr('stroke', '#E2E2E2').attr('stroke-width', 2)
const gridMajor = svg.append('g').attr('transform', 'translate(0,320)')
  .call(d3.axisBottom(xScale).tickValues(majorTicks).tickSize(1242).tickFormat(''))
gridMajor.select('.domain').remove()
gridMajor.selectAll('line').attr('stroke', '#BDBDBD').attr('stroke-width', 2)
const scaleAxis = svg.append('g').attr('transform', 'translate(0,320)')
  .call(d3.axisTop(xScale).tickValues(majorTicks).tickSize(0).tickPadding(6).tickFormat(d => (d / 1000) + 'M'))
scaleAxis.select('.domain').remove()
scaleAxis.selectAll('text').attr('font-family', 'Roboto').attr('font-size', 22).attr('fill', '#222')
svg.append('rect').attr('x', 14).attr('y', 324).attr('width', 2972).attr('height', 2.4).attr('fill', '#E0E0E0')
svg.append('rect').attr('x', 14).attr('y', 330).attr('width', 2972).attr('height', 2.4).attr('fill', '#E0E0E0')
svg.append('rect').attr('x', 14).attr('y', 1202).attr('width', 2972).attr('height', 2).attr('fill', '#E0E0E0')
svg.append('rect').attr('x', 14).attr('y', 1208).attr('width', 2972).attr('height', 2.4).attr('fill', '#E0E0E0')
svg.append('rect').attr('x', 14).attr('y', 294).attr('width', 26).attr('height', 28).attr('fill', '#fff')
txt(svg, 15, 312, '19', 22, '#111')

// variant matrix
const matrix = svg.append('g').attr('clip-path', 'url(#matrixClip)').attr('shape-rendering', 'crispEdges')
matrix.append('rect').attr('x', xScale(viewStart)).attr('y', yScale(0)).attr('width', 2980).attr('height', 800).attr('fill', genoColor('ref'))
matrix.append('rect').attr('x', xScale(inversionSpan[0])).attr('y', yScale(inversionSpan[2])).attr('width', xScale(inversionSpan[1]) - xScale(inversionSpan[0])).attr('height', yScale(inversionSpan[3]) - yScale(inversionSpan[2])).attr('fill', 'url(#invGrad)')

// one rect per row span, between two genome positions
function spanRects(k0, k1, flat, type) {
  matrix.append('g').selectAll('rect').data(pairs(flat)).join('rect')
    .attr('x', xScale(k0)).attr('width', Math.max(xScale(k1) - xScale(k0), 2))
    .attr('y', d => yScale(d[0])).attr('height', d => yScale(d[1]) - yScale(d[0]))
    .attr('fill', genoColor(type))
}
function dots(entries, type, px = dotPx) {
  const flat = entries.flatMap(e => e[1].map(r => [e[0], r]))
  matrix.append('g').selectAll('rect').data(flat).join('rect')
    .attr('x', d => xScale(d[0])).attr('width', px)
    .attr('y', d => yScale(d[1])).attr('height', px)
    .attr('fill', genoColor(type))
}

spanRects(kbI, kbK, [0, 800], 'del')
spanRects(kbI, kbK, blockGaps, 'ref')
spanRects(kbB, kbF, delBtoF, 'del')
spanRects(kbE, kbI, delEtoI, 'del')
spanRects(kbH, kbI, delHtoI, 'del')
spanRects(kbF, kbG, delFtoG, 'del')
spanRects(kbA, kbB, delAtoB, 'del')
spanRects(kbK, kbM, delKtoM, 'del')
spanRects(42907, 42927, delShort, 'del')
spanRects(kbB, kbE, homDelBtoE, 'DEL')
spanRects(kbE, kbI, homDelEtoI, 'DEL')
spanRects(kbI, kbK, blockHomBands, 'DEL')
spanRects(kbC, kbI, dupCtoI, 'del')
pairs(dupPieces).forEach(p => {
  spanRects(p[0], p[1], dupCtoI, 'dup')
  spanRects(p[0], p[1], homDupCtoI, 'DUP')
})
spanRects(kbA, kbD, dupAtoD, 'dup')
spanRects(kbA, kbB, dupAtoB, 'dup')
spanRects(kbA, kbB, homDupAtoB, 'DUP')
spanRects(kbJ, kbL, dupJtoL, 'dup')
spanRects(kbK, kbN, dupKtoN, 'dup')
spanRects(kbF, kbG, dupFtoG, 'dup')
spanRects(42846, 42853, dupColumn, 'dup')
spanRects(44408, 44456, cpxRows, 'cpx')
dupRightLong.forEach(d => spanRects(d[0], d[1], d[2].flatMap(r => [r, r + 4]), 'dup'))
homDupLong.forEach(d => spanRects(d[0], d[1], d[2].flatMap(r => [r, r + 5]), 'DUP'))
spanRects(cpxLine[0], cpxLine[1], [cpxLine[2], cpxLine[2] + 4], 'cpx')

stripes.forEach(s => spanRects(s[0], s[0] + stripePx * 1.698, s[2] || [0, 800], s[1]))

dots(delDots, 'del')
dots(dupDots, 'dup')
dots(homDupDots, 'DUP')
dots(insDots, 'ins')
dots(homInsDots, 'INS')
dots(noCallDots, 'nc')
dots(cpxDots, 'cpx')
dots(homDelDots, 'DEL')

// track label boxes
function trackLabel(y, w, name, kebabX) {
  const g = svg.append('g')
  g.append('rect').attr('x', 14).attr('y', y).attr('width', w).attr('height', 46).attr('rx', 7).attr('fill', '#fff').attr('filter', 'url(#boxShadow)')
  g.selectAll(null).data([[26, 14], [36, 14], [26, 23], [36, 23], [26, 32], [36, 32]]).join('circle')
    .attr('cx', d => d[0]).attr('cy', d => y + d[1]).attr('r', 3).attr('fill', '#333')
  g.append('path').attr('d', `M57,${y + 14}L73,${y + 32}M73,${y + 14}L57,${y + 32}`).attr('stroke', '#777').attr('stroke-width', 2.4)
  tri(g, 103, y + 23, 17, 10, '#777')
  txt(g, 124, y + 30, name, 24.2, '#222')
  kebab(g, kebabX, y + 23, '#777')
}
trackLabel(332, 730, '1KGP_3202.Illumina_ensemble_callset.freeze_V1.vcf', 721)
trackLabel(1210, 569, 'NCBI RefSeq analysis set (GFF3Tabix)', 561)

// genes
const genes = svg.append('g').attr('clip-path', 'url(#geneClip)')
geneLines.forEach(([row, a, b, strand]) => {
  const y = geneY(row) + 10
  genes.append('line').attr('x1', xScale(a)).attr('x2', xScale(b)).attr('y1', y).attr('y2', y).attr('stroke', intronColor).attr('stroke-width', 2.2)
  if (strand) {
    const tip = strand > 0 ? xScale(b) : xScale(a)
    genes.append('path').attr('d', `M${tip},${y}L${tip - strand * 8},${y - 6}L${tip - strand * 8},${y + 6}Z`).attr('fill', intronColor)
  }
})
Object.entries(exonRows).forEach(([row, flat]) => {
  genes.append('g').selectAll('rect').data(pairs(flat)).join('rect')
    .attr('x', d => xScale(d[0])).attr('width', d => xScale(d[1]) - xScale(d[0]))
    .attr('y', geneY(+row)).attr('height', 20).attr('fill', exonColor)
})
Object.entries(cdsRows).forEach(([row, flat]) => {
  genes.append('g').selectAll('rect').data(pairs(flat)).join('rect')
    .attr('x', d => xScale(d[0])).attr('width', d => xScale(d[1]) - xScale(d[0]))
    .attr('y', geneY(+row) + 4).attr('height', 14).attr('fill', cdsColor)
})
genes.append('g').selectAll('text').data(geneNames).join('text')
  .attr('x', (d, i) => xScale(geneNameKb[i])).attr('y', (d, i) => geneY(geneNameRow[i]) + 42)
  .attr('font-size', 22.2).attr('fill', '#222').text(d => d)

// legend
const legend = svg.append('g')
legend.append('rect').attr('x', 2640).attr('y', 416).attr('width', 322).attr('height', 332).attr('rx', 5).attr('fill', '#fff').attr('stroke', '#E4E4E4').attr('stroke-width', 2)
txt(legend, 2646, 444, 'SV type', 20.8, '#222', { 'font-weight': 700 })
legend.append('path').attr('d', 'M2946,423L2954,431M2954,423L2946,431').attr('stroke', '#666').attr('stroke-width', 1.8)
const legendY = d3.scaleLinear([0, 1], [460, 492])
legendLabels.forEach((label, i) => {
  if (legendPale[i]) legend.append('rect').attr('x', 2646).attr('y', legendY(i)).attr('width', 24).attr('height', 24).attr('fill', legendPale[i])
  if (legendFull[i]) legend.append('rect').attr('x', 2674).attr('y', legendY(i)).attr('width', 24).attr('height', 24).attr('fill', legendFull[i])
  txt(legend, 2711, legendY(i) + 19, label, 20.8, '#2A2A2A')
})

// display mode pill
const pill = svg.append('g')
pill.append('rect').attr('x', 2684).attr('y', 1501).attr('width', 246).attr('height', 46).attr('rx', 23).attr('fill', '#fff').attr('stroke', '#BDBDBD').attr('stroke-width', 2)
pill.append('path').attr('d', 'M2701,1513L2706,1520L2711,1513M2701,1535L2706,1528L2711,1535').attr('fill', 'none').attr('stroke', '#555').attr('stroke-width', 2.2)
txt(pill, 2730, 1530, 'Longest isoform', 23, '#222')
tri(pill, 2912, 1524, 12, 7, '#222')
pill.append('rect').attr('x', 2941).attr('y', 1505).attr('width', 38).attr('height', 38).attr('rx', 5).attr('fill', '#fff').attr('stroke', '#DCDCDC').attr('stroke-width', 2)
pill.append('path').attr('d', 'M2960,1512L2960,1535M2956,1517L2960,1511L2964,1517M2956,1530L2960,1536L2964,1530').attr('fill', 'none').attr('stroke', '#777').attr('stroke-width', 1.8)
</script>
</body>
</html>
